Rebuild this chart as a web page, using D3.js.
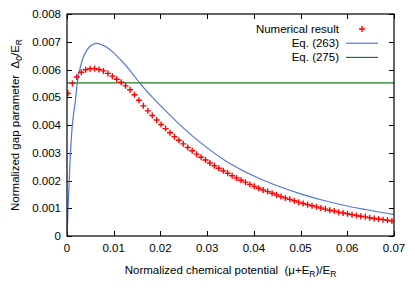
<!DOCTYPE html>
<html>
<head>
<meta charset="utf-8">
<script src="https://cdn.jsdelivr.net/npm/d3@7"></script>
<style>
  body { margin: 0; background: #fff; }
  text { font-family: "Liberation Sans", Arial, sans-serif; white-space: pre; }
</style>
</head>
<body>
<svg id="chart" width="415" height="291"></svg>
<script>
// tick values
var xTicks = [0, 0.01, 0.02, 0.03, 0.04, 0.05, 0.06, 0.07];
var xTickLabels = ["0", "0.01", "0.02", "0.03", "0.04", "0.05", "0.06", "0.07"];
var yTicks = [0, 0.001, 0.002, 0.003, 0.004, 0.005, 0.006, 0.007, 0.008];
var yTickLabels = ["0", "0.001", "0.002", "0.003", "0.004", "0.005", "0.006", "0.007", "0.008"];

// numerical result (red crosses)
var numX = [0.0002, 0.00115, 0.0021, 0.00305, 0.0040, 0.00495, 0.0059, 0.00685, 0.0078, 0.00875,
  0.0097, 0.01065, 0.0116, 0.01255, 0.0135, 0.01445, 0.0154, 0.01635, 0.0173, 0.01825,
  0.0192, 0.02015, 0.0211, 0.02205, 0.0230, 0.02395, 0.0249, 0.02585, 0.0268, 0.02775,
  0.0287, 0.02965, 0.0306, 0.03155, 0.0325, 0.03345, 0.0344, 0.03535, 0.0363, 0.03725,
  0.0382, 0.03915, 0.0401, 0.04105, 0.0420, 0.04295, 0.0439, 0.04485, 0.0458, 0.04675,
  0.0477, 0.04865, 0.0496, 0.05055, 0.0515, 0.05245, 0.0534, 0.05435, 0.0553, 0.05625,
  0.0572, 0.05815, 0.0591, 0.06005, 0.0610, 0.06195, 0.0629, 0.06385, 0.0648, 0.06575,
  0.0667, 0.06765, 0.0686, 0.06955];
var numY = [0.00514, 0.00550, 0.00573, 0.00590, 0.00599, 0.00603, 0.00603, 0.00600, 0.00595, 0.00586,
  0.00576, 0.00565, 0.00554, 0.00541, 0.00527, 0.00509, 0.00489, 0.00469, 0.00451, 0.00434,
  0.00418, 0.00402, 0.00387, 0.00372, 0.00358, 0.00345, 0.00332, 0.00319, 0.00307, 0.00295,
  0.00284, 0.00274, 0.00263, 0.00253, 0.00244, 0.00235, 0.00226, 0.00217, 0.00209, 0.00201,
  0.00194, 0.00186, 0.00179, 0.00172, 0.00166, 0.00160, 0.00154, 0.00148, 0.00142, 0.00137,
  0.00132, 0.00127, 0.00122, 0.00117, 0.00113, 0.00109, 0.00105, 0.00101, 0.00097, 0.00093,
  0.00090, 0.00086, 0.00083, 0.00080, 0.00077, 0.00074, 0.00071, 0.00069, 0.00066, 0.00063,
  0.00061, 0.00059, 0.00057, 0.00054];

// Eq. (263) (blue line)
var eq263X = [0, 0.0003, 0.0006, 0.001, 0.0014, 0.0017, 0.0022, 0.0028, 0.0035, 0.0042,
  0.0049, 0.0056, 0.0064, 0.0072, 0.0085, 0.010, 0.0113, 0.0128, 0.0142, 0.0155,
  0.018, 0.0206, 0.025, 0.029, 0.034, 0.040, 0.045, 0.050, 0.055, 0.060, 0.065, 0.070];
var eq263Y = [0, 0.0013, 0.0025, 0.0037, 0.0044, 0.00475, 0.00552, 0.00605, 0.00645, 0.00668,
  0.00683, 0.00691, 0.00694, 0.00691, 0.00680, 0.00660, 0.00638, 0.00610, 0.00581, 0.00553,
  0.00505, 0.00460, 0.00388, 0.00331, 0.00270, 0.00216, 0.00181, 0.00152, 0.00128, 0.00108, 0.00092, 0.00078];

// Eq. (275) (green constant)
var eq275X = [0, 0.07];
var eq275Y = [0.00552, 0.00552];

var legendNames = ["Numerical result", "Eq. (263)", "Eq. (275)"];

var margin = {top: 14, bottom: 55, left: 67, right: 21};
var W = 415, H = 291;
var red = "#ff0000", blue = "#4f74e3", green = "#1f7a1f";

var svg = d3.select("#chart");
var xScale = d3.scaleLinear().domain([0, 0.07]).range([margin.left, W - margin.right]);
var yScale = d3.scaleLinear().domain([0, 0.008]).range([H - margin.bottom, margin.top]);
var x0 = xScale.range()[0], x1 = xScale.range()[1];
var y0 = yScale.range()[0], y1 = yScale.range()[1];

svg.append("defs").append("clipPath").attr("id", "clip")
  .append("rect").attr("x", x0).attr("y", y1).attr("width", x1 - x0).attr("height", y0 - y1);

//刻度（四边向内）
var tickLen = 5;
var ticks = svg.append("g").attr("stroke", "#000").attr("stroke-width", 1);
xTicks.forEach(function(v){
  var x = Math.round(xScale(v)) + 0.5;
  ticks.append("line").attr("x1", x).attr("x2", x).attr("y1", y0).attr("y2", y0 - tickLen);
  ticks.append("line").attr("x1", x).attr("x2", x).attr("y1", y1).attr("y2", y1 + tickLen);
});
yTicks.forEach(function(v){
  var y = Math.round(yScale(v)) + 0.5;
  ticks.append("line").attr("x1", x0).attr("x2", x0 + tickLen).attr("y1", y).attr("y2", y);
  ticks.append("line").attr("x1", x1).attr("x2", x1 - tickLen).attr("y1", y).attr("y2", y);
});

//刻度标签
svg.append("g").selectAll("text").data(xTicks).enter().append("text")
  .attr("x", d => xScale(d)).attr("y", y0 + 16)
  .attr("text-anchor", "middle").attr("font-size", 11.5)
  .text((d, i) => xTickLabels[i]);
svg.append("g").selectAll("text").data(yTicks).enter().append("text")
  .attr("x", x0 - 6).attr("y", d => yScale(d)).attr("dy", "0.35em")
  .attr("text-anchor", "end").attr("font-size", 11.5)
  .text((d, i) => yTickLabels[i]);

//数据
var plot = svg.append("g").attr("clip-path", "url(#clip)");
var line = d3.line().x(d => xScale(d[0])).y(d => yScale(d[1]));

plot.append("path")
  .datum(eq275X.map((x, i) => [x, eq275Y[i]]))
  .attr("d", line).attr("fill", "none").attr("stroke", green).attr("stroke-width", 1.2);

plot.append("path")
  .datum(eq263X.map((x, i) => [x, eq263Y[i]]))
  .attr("d", line.curve(d3.curveMonotoneX)).attr("fill", "none").attr("stroke", blue).attr("stroke-width", 1.2);

var s = 3;
plot.selectAll(".pt").data(numX.map((x, i) => [x, numY[i]])).enter().append("path")
  .attr("class", "pt")
  .attr("d", "M" + (-s) + ",0H" + s + "M0," + (-s) + "V" + s)
  .attr("transform", d => "translate(" + xScale(d[0]) + "," + yScale(d[1]) + ")")
  .attr("stroke", red).attr("stroke-width", 1.4).attr("fill", "none");

//边框
svg.append("rect").attr("x", x0).attr("y", y1).attr("width", x1 - x0).attr("height", y0 - y1)
  .attr("fill", "none").attr("stroke", "#000").attr("stroke-width", 1.2);

//图例
var legY = [29, 43.2, 57.4];
var leg = svg.append("g");
legendNames.forEach(function(name, i){
  leg.append("text").attr("x", 339).attr("y", legY[i]).attr("dy", "0.35em")
    .attr("text-anchor", "end").attr("font-size", 11.5).text(name);
});
leg.append("path").attr("d", "M" + (362 - s) + "," + legY[0] + "H" + (362 + s) + "M362," + (legY[0] - s) + "V" + (legY[0] + s))
  .attr("stroke", red).attr("stroke-width", 1.4);
leg.append("line").attr("x1", 346).attr("x2", 378).attr("y1", legY[1]).attr("y2", legY[1])
  .attr("stroke", blue).attr("stroke-width", 1.2);
leg.append("line").attr("x1", 346).attr("x2", 378).attr("y1", legY[2]).attr("y2", legY[2])
  .attr("stroke", green).attr("stroke-width", 1.2);

//坐标轴标题
var xt = svg.append("text").attr("x", (x0 + x1) / 2).attr("y", 274)
  .attr("text-anchor", "middle").attr("font-size", 11.5);
xt.append("tspan").text("Normalized chemical potential  (\u03bc+E");
xt.append("tspan").attr("dy", 3).attr("font-size", 8.5).text("R");
xt.append("tspan").attr("dy", -3).text(")/E");
xt.append("tspan").attr("dy", 3).attr("font-size", 8.5).text("R");

var yt = svg.append("text").attr("transform", "translate(19," + ((y0 + y1) / 2) + ") rotate(-90)")
  .attr("text-anchor", "middle").attr("font-size", 11.5);
yt.append("tspan").text("Normalized gap parameter  \u0394");
yt.append("tspan").attr("dy", 3).attr("font-size", 8.5).text("0");
yt.append("tspan").attr("dy", -3).text("/E");
yt.append("tspan").attr("dy", 3).attr("font-size", 8.5).text("R");
</script>
</body>
</html>
